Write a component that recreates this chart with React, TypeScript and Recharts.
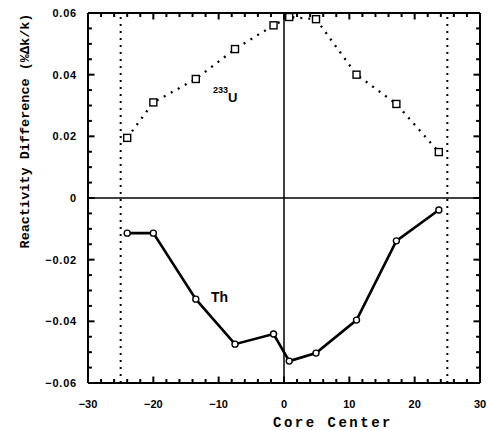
import React from "react";
import { LineChart, Line, XAxis, YAxis, ReferenceLine } from "recharts";

// Core position (x) and reactivity difference (%Δk/k) for each sample
const positions = [-24, -20, -13.5, -7.5, -1.6, 0.8, 4.9, 11.1, 17.2, 23.7];
const u233Values = [0.0195, 0.031, 0.0386, 0.0483, 0.056, 0.0587, 0.058, 0.04, 0.0305, 0.0149];
const thValues = [-0.0114, -0.0114, -0.0328, -0.0474, -0.0441, -0.0529, -0.0503, -0.0396, -0.0139, -0.0039];

// Core boundaries drawn as dotted verticals
const coreEdges = [-25, 25];

const xMajorTicks = [-30, -20, -10, 0, 10, 20, 30];
const xTicks = [-30, -28, -26, -24, -22, -20, -18, -16, -14, -12, -10, -8, -6, -4, -2, 0, 2, 4, 6, 8, 10, 12, 14, 16, 18, 20, 22, 24, 26, 28, 30];
const yMajorTicks = [-0.06, -0.04, -0.02, 0, 0.02, 0.04, 0.06];
const yTicks = [-0.06, -0.055, -0.05, -0.045, -0.04, -0.035, -0.03, -0.025, -0.02, -0.015, -0.01, -0.005, 0, 0.005, 0.01, 0.015, 0.02, 0.025, 0.03, 0.035, 0.04, 0.045, 0.05, 0.055, 0.06];

const X_MIN = -30;
const X_MAX = 30;
const Y_MIN = -0.06;
const Y_MAX = 0.06;

const data = positions.map((x, i) => ({ x, u: u233Values[i], th: thValues[i] }));

const isMajor = (v: number, majors: number[]) => majors.some((m) => Math.abs(m - v) < 1e-9);

const fmtY = (v: number) => {
  if (Math.abs(v) < 1e-9) return "0";
  const s = Math.abs(v).toFixed(2);
  return v < 0 ? "\u2212" + s : s;
};
const fmtX = (v: number) => (v < 0 ? "\u2212" + Math.abs(v) : String(v));

const labelFont = { fontFamily: "'Liberation Sans', Arial, sans-serif", fontWeight: 700, fontSize: 11 };

// Tick labels only; the inward tick marks are drawn as short reference segments
const BottomLabel = (props: any) => {
  const v = Number(props.payload.value);
  if (!isMajor(v, xMajorTicks)) return <g />;
  return (
    <text x={props.x} y={Number(props.y) + 21} dy="0.35em" textAnchor="middle" fill="#000" style={labelFont}>
      {fmtX(v)}
    </text>
  );
};

const LeftLabel = (props: any) => {
  const v = Number(props.payload.value);
  if (!isMajor(v, yMajorTicks)) return <g />;
  return (
    <text x={Number(props.x) - 11} y={props.y} dy="0.35em" textAnchor="end" fill="#000" letterSpacing={0.8} style={labelFont}>
      {fmtY(v)}
    </text>
  );
};

// tick lengths in axis units (≈6.5px major, ≈4px minor)
const xTickLen = (v: number) => (isMajor(v, xMajorTicks) ? 0.0021 : 0.0013);
const yTickLen = (v: number) => (isMajor(v, yMajorTicks) ? 1.0 : 0.6);

const SquareDot = (props: any) => {
  const { cx, cy } = props;
  if (cx == null || cy == null) return null;
  return <rect x={cx - 3.5} y={cy - 3.5} width={7} height={7} fill="#fff" stroke="#000" strokeWidth={1.4} />;
};

const CircleDot = (props: any) => {
  const { cx, cy } = props;
  if (cx == null || cy == null) return null;
  return <circle cx={cx} cy={cy} r={3} fill="#fff" stroke="#000" strokeWidth={1.4} />;
};

const monoFont = "'Liberation Mono', 'DejaVu Sans Mono', monospace";
const frame = { stroke: "#000", strokeWidth: 2 };

export default function App() {
  return (
    <div style={{ position: "absolute", left: 0, top: 0, background: "#fff" }}>
      <LineChart width={488} height={430} data={data} margin={{ top: 12, right: 7, bottom: 46, left: 87 }}>
        <XAxis
          xAxisId="b"
          dataKey="x"
          type="number"
          domain={[X_MIN, X_MAX]}
          ticks={xTicks}
          interval={0}
          height={1}
          tickSize={0}
          tickMargin={0}
          tickLine={false}
          axisLine={frame}
          tick={BottomLabel}
        />
        <XAxis
          xAxisId="t"
          orientation="top"
          dataKey="x"
          type="number"
          domain={[X_MIN, X_MAX]}
          height={1}
          tick={false}
          tickLine={false}
          axisLine={frame}
        />
        <YAxis
          yAxisId="l"
          type="number"
          domain={[Y_MIN, Y_MAX]}
          ticks={yTicks}
          interval={0}
          width={1}
          tickSize={0}
          tickMargin={0}
          tickLine={false}
          axisLine={frame}
          tick={LeftLabel}
        />
        <YAxis
          yAxisId="r"
          orientation="right"
          type="number"
          domain={[Y_MIN, Y_MAX]}
          width={1}
          tick={false}
          tickLine={false}
          axisLine={frame}
        />
        {xTicks.map((v) => (
          <ReferenceLine
            key={`xb${v}`}
            xAxisId="b"
            yAxisId="l"
            ifOverflow="visible"
            segment={[{ x: v, y: Y_MIN }, { x: v, y: Y_MIN + xTickLen(v) }]}
            stroke="#000"
            strokeWidth={2}
          />
        ))}
        {xTicks.map((v) => (
          <ReferenceLine
            key={`xt${v}`}
            xAxisId="b"
            yAxisId="l"
            ifOverflow="visible"
            segment={[{ x: v, y: Y_MAX }, { x: v, y: Y_MAX - xTickLen(v) }]}
            stroke="#000"
            strokeWidth={2}
          />
        ))}
        {yTicks.map((v) => (
          <ReferenceLine
            key={`yl${v}`}
            xAxisId="b"
            yAxisId="l"
            ifOverflow="visible"
            segment={[{ x: X_MIN, y: v }, { x: X_MIN + yTickLen(v), y: v }]}
            stroke="#000"
            strokeWidth={2}
          />
        ))}
        {yTicks.map((v) => (
          <ReferenceLine
            key={`yr${v}`}
            xAxisId="b"
            yAxisId="l"
            ifOverflow="visible"
            segment={[{ x: X_MAX, y: v }, { x: X_MAX - yTickLen(v), y: v }]}
            stroke="#000"
            strokeWidth={2}
          />
        ))}
        <ReferenceLine xAxisId="b" yAxisId="l" y={0} stroke="#000" strokeWidth={1.5} />
        <ReferenceLine xAxisId="b" yAxisId="l" x={0} stroke="#000" strokeWidth={1.5} />
        {coreEdges.map((e) => (
          <ReferenceLine key={e} xAxisId="b" yAxisId="l" x={e} stroke="#000" strokeWidth={2} strokeDasharray="2 5" />
        ))}
        <Line
          xAxisId="b"
          yAxisId="l"
          dataKey="u"
          stroke="#000"
          strokeWidth={2.3}
          strokeDasharray="2 6"
          dot={<SquareDot />}
          isAnimationActive={false}
        />
        <Line
          xAxisId="b"
          yAxisId="l"
          dataKey="th"
          stroke="#000"
          strokeWidth={2.6}
          dot={<CircleDot />}
          isAnimationActive={false}
        />
        <text
          transform="translate(25,131) rotate(-90)"
          textAnchor="middle"
          dominantBaseline="central"
          fill="#000"
          style={{ fontFamily: monoFont, fontWeight: 700, fontSize: 13.5 }}
        >
          Reactivity Difference (%Δk/k)
        </text>
        <text
          x={333}
          y={427}
          textAnchor="middle"
          fill="#000"
          letterSpacing={2.5}
          style={{ fontFamily: monoFont, fontWeight: 700, fontSize: 14 }}
        >
          Core Center
        </text>
        <text x={211} y={302} fill="#000" style={{ ...labelFont, fontSize: 14 }}>
          Th
        </text>
        <text x={213} y={93} fill="#000" style={{ ...labelFont, fontSize: 9 }}>
          233
          <tspan fontSize={13} dy={9}>
            U
          </tspan>
        </text>
      </LineChart>
    </div>
  );
}
